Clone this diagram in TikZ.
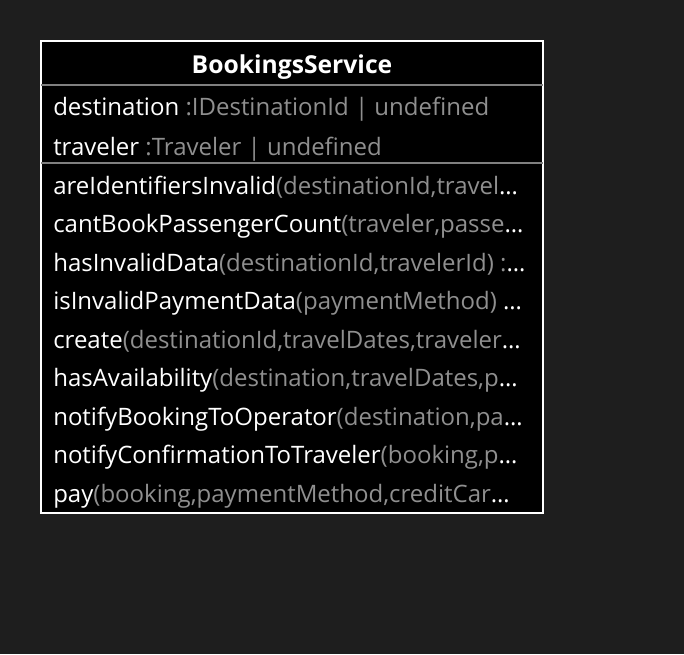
\documentclass[tikz,border=0pt]{standalone}
\usepackage{fontspec}
\setmainfont{Open Sans}
\newlength{\du}
\setlength{\du}{0.75pt}
\definecolor{canvascolor}{rgb}{0.117647, 0.117647, 0.117647}
\definecolor{paramcolor}{rgb}{0.560000, 0.560000, 0.560000}
\definecolor{rulecolor}{rgb}{0.500000, 0.500000, 0.500000}
\tikzset{
  member/.style={anchor=base west, inner sep=0pt, text=white, font=\fontsize{18}{21}\selectfont},
  classtitle/.style={anchor=base, inner sep=0pt, text=white, font=\fontsize{18.5}{21}\selectfont\bfseries},
}
\newcommand{\param}[1]{\textcolor{paramcolor}{#1}}
\newcommand{\cut}{…}
\begin{document}
\begin{tikzpicture}
\pgftransformxscale{1.000000}
\pgftransformyscale{-1.000000}
\fill[canvascolor] (0\du,0\du) rectangle (684\du,654\du);
\useasboundingbox (0\du,0\du) rectangle (684\du,654\du);
% class box
\node[draw=white, fill=black, line width=1.5\du, minimum width=502\du, minimum height=472\du, inner sep=0pt] (cls) at (292\du,277\du) {};
\draw[rulecolor, line width=1.5\du] (41\du,85\du) -- (543\du,85\du);
\draw[rulecolor, line width=1.5\du] (41\du,163\du) -- (543\du,163\du);
% title
\node[classtitle] (title) at (292\du,73\du) {BookingsService};
% attributes
\node[member] (destination) at (53\du,115\du) {destination \param{:IDestinationId | undefined}};
\node[member] (traveler) at (53\du,155\du) {traveler \param{:Traveler | undefined}};
% operations
\node[member] (areIdentifiersInvalid) at (53\du,194\du) {areIdentifiersInvalid\param{(destinationId,travel}\cut};
\node[member] (cantBookPassengerCount) at (53\du,232.5\du) {cantBookPassengerCount\param{(traveler,passe}\cut};
\node[member] (hasInvalidData) at (53\du,271\du) {hasInvalidData\param{(destinationId,travelerId) :}\cut};
\node[member] (isInvalidPaymentData) at (53\du,309.5\du) {isInvalidPaymentData\param{(paymentMethod) }\cut};
\node[member] (create) at (53\du,348\du) {create\param{(destinationId,travelDates,traveler}\cut};
\node[member] (hasAvailability) at (53\du,386.5\du) {hasAvailability\param{(destination,travelDates,p}\cut};
\node[member] (notifyBookingToOperator) at (53\du,425\du) {notifyBookingToOperator\param{(destination,pa}\cut};
\node[member] (notifyConfirmationToTraveler) at (53\du,463.5\du) {notifyConfirmationToTraveler\param{(booking,p}\cut};
\node[member] (pay) at (53\du,502\du) {pay\param{(booking,paymentMethod,creditCar}\cut};
\end{tikzpicture}
\end{document}
